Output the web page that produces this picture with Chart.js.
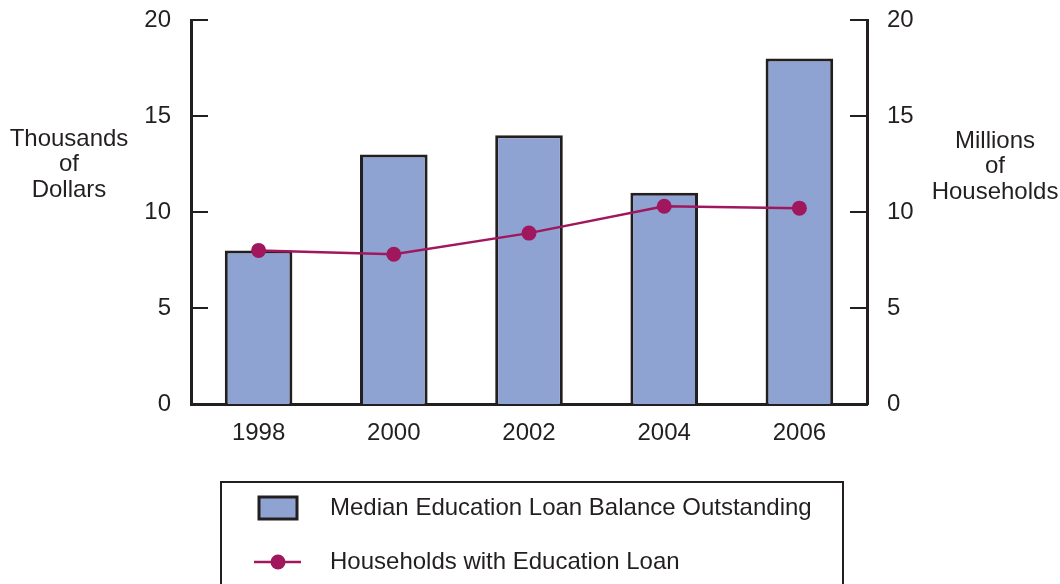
<!DOCTYPE html>
<html>
<head>
<meta charset="utf-8">
<script src="https://cdn.jsdelivr.net/npm/chart.js@4"></script>
<style>
    html, body { margin: 0; padding: 0; background: #fff; }
    #wrap { width: 1060px; height: 584px; }
</style>
</head>
<body>
<div id="wrap"><canvas id="loanChart" width="1060" height="584"></canvas></div>
<script>
const years = ['1998', '2000', '2002', '2004', '2006']
const loanBalance = [8, 13, 14, 11, 18]          // thousands of dollars
const households = [8.0, 7.8, 8.9, 10.3, 10.2]   // millions of households
const axisTicks = [0, 5, 10, 15, 20]
const leftTitle = ['Thousands', 'of', 'Dollars']
const rightTitle = ['Millions', 'of', 'Households']

const ink = '#231F20'
const barFill = '#8FA3D2'
const lineColor = '#A0175E'
const fontFamily = '"Liberation Sans", Arial, Helvetica, sans-serif'

Chart.defaults.font.family = fontFamily
Chart.defaults.font.size = 24
Chart.defaults.color = ink

// inward tick marks on both value axes, plus the side titles and the boxed legend
const decorations = {
    id: 'decorations',
    afterDraw(chart) {
        const ctx = chart.ctx
        const area = chart.chartArea

        ctx.save()
        ctx.strokeStyle = ink
        ctx.lineWidth = 2
        axisTicks.forEach(v => {
            let yl = chart.scales.y.getPixelForValue(v)
            let yr = chart.scales.y1.getPixelForValue(v)
            ctx.beginPath()
            ctx.moveTo(area.left, yl)
            ctx.lineTo(area.left + 17, yl)
            ctx.moveTo(area.right, yr)
            ctx.lineTo(area.right - 17, yr)
            ctx.stroke()
        })

        ctx.fillStyle = ink
        ctx.font = '24px ' + fontFamily
        ctx.textAlign = 'center'
        ctx.textBaseline = 'middle'
        leftTitle.forEach((t, i) => ctx.fillText(t, 69, 139 + i * 25.5))
        rightTitle.forEach((t, i) => ctx.fillText(t, 995, 141 + i * 25.5))

        // legend box, open at the bottom edge
        ctx.lineWidth = 2
        ctx.strokeRect(221, 482, 622, 120)

        const bars = chart.data.datasets[0]
        const line = chart.data.datasets[1]

        ctx.fillStyle = bars.backgroundColor
        ctx.fillRect(259, 497, 38, 22)
        ctx.lineWidth = 3
        ctx.strokeStyle = ink
        ctx.strokeRect(259, 497, 38, 22)

        ctx.strokeStyle = line.borderColor
        ctx.lineWidth = 2.5
        ctx.beginPath()
        ctx.moveTo(254, 562)
        ctx.lineTo(301, 562)
        ctx.stroke()
        ctx.fillStyle = line.borderColor
        ctx.beginPath()
        ctx.arc(278, 562, 7.5, 0, Math.PI * 2)
        ctx.fill()

        ctx.fillStyle = ink
        ctx.textAlign = 'left'
        ctx.fillText(bars.label, 330, 508)
        ctx.fillText(line.label, 330, 562)
        ctx.restore()
    }
}

const valueAxis = (position, width) => ({
    type: 'linear',
    position,
    min: 0,
    max: 20,
    afterBuildTicks: scale => {
        scale.ticks = axisTicks.map(v => ({ value: v }))
    },
    afterFit: scale => {
        scale.width = width
        scale.paddingTop = 0
        scale.paddingBottom = 0
    },
    grid: { display: false, drawTicks: false },
    border: { display: true, color: ink, width: 3 },
    ticks: { padding: 20, color: ink }
})

new Chart(document.getElementById('loanChart'), {
    type: 'bar',
    data: {
        labels: years,
        datasets: [{
            type: 'bar',
            label: 'Median Education Loan Balance Outstanding',
            data: loanBalance,
            backgroundColor: barFill,
            borderColor: ink,
            borderWidth: 3,
            barPercentage: 0.5,
            categoryPercentage: 1,
            yAxisID: 'y',
            order: 2
        }, {
            type: 'line',
            label: 'Households with Education Loan',
            data: households,
            borderColor: lineColor,
            backgroundColor: lineColor,
            borderWidth: 2.5,
            pointRadius: 7.5,
            pointHoverRadius: 7.5,
            pointBorderWidth: 0,
            tension: 0,
            yAxisID: 'y1',
            order: 1
        }]
    },
    options: {
        responsive: false,
        animation: false,
        layout: { padding: { top: 20, left: 0, right: 0, bottom: 0 } },
        plugins: {
            legend: { display: false },
            tooltip: { enabled: false }
        },
        scales: {
            x: {
                offset: true,
                afterFit: scale => {
                    scale.height = 180
                    scale.paddingLeft = 0
                    scale.paddingRight = 0
                },
                grid: { display: false, drawTicks: false },
                border: { display: true, color: ink, width: 3 },
                ticks: { padding: 15, color: ink, maxRotation: 0 }
            },
            y: valueAxis('left', 191),
            y1: valueAxis('right', 193)
        }
    },
    plugins: [decorations]
})
</script>
</body>
</html>
